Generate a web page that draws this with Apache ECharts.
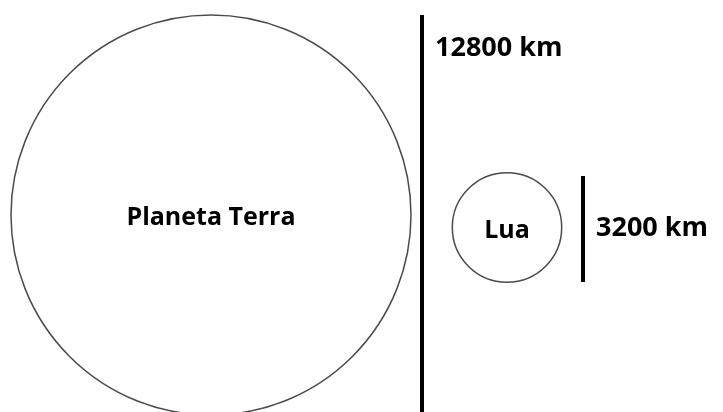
<!DOCTYPE html>
<html>
<head>
<meta charset="utf-8">
<script src="https://cdn.jsdelivr.net/npm/echarts@6/dist/echarts.min.js"></script>
<style>
html, body { margin: 0; background: #fff; }
#main { width: 723px; height: 412px; }
</style>
</head>
<body>
<div id="main"></div>
<script>
// everything in km, drawn at ~32 km per pixel
const bodies = ['Planeta Terra', 'Lua']
const centerX = [6752, 16224]
const centerY = [6304, 5904]
const diameters = [12800, 3500]

const barLabels = ['12800 km', '3200 km']
const barX = [13504, 18656]
const barBottom = [-160, 4160]
const barTop = [12704, 7552]
const labelY = [11648, 5888]

const nameFont = 'bold 25px "Open Sans", sans-serif'
const barFont = 'bold 27px "Open Sans", sans-serif'

let myChart = echarts.init(document.getElementById('main'))

let option = {
    backgroundColor: '#fff',
    animation: false,
    grid: {left: 0, right: 0, top: 0, bottom: 0},
    xAxis: {type: 'value', min: 0, max: 23136, show: false},
    yAxis: {type: 'value', min: 0, max: 13184, show: false},
    series: [
        {
            type: 'custom',
            data: bodies.map((name, i) => [centerX[i], centerY[i], diameters[i], name]),
            renderItem: (params, api) => {
                const c = api.coord([api.value(0), api.value(1)])
                const r = api.size([api.value(2) / 2, 0])[0]
                return {
                    type: 'group',
                    children: [
                        {
                            type: 'circle',
                            shape: {cx: c[0], cy: c[1], r: r},
                            style: {fill: 'none', stroke: '#4a4a4a', lineWidth: 1.5}
                        },
                        {
                            type: 'text',
                            x: c[0],
                            y: c[1] + 3,
                            style: {
                                text: bodies[params.dataIndex],
                                font: nameFont,
                                fill: '#000',
                                align: 'center',
                                verticalAlign: 'middle'
                            }
                        }
                    ]
                }
            }
        },
        {
            type: 'custom',
            data: barLabels.map((label, i) => [barX[i], barBottom[i], barTop[i], labelY[i]]),
            renderItem: (params, api) => {
                const p0 = api.coord([api.value(0), api.value(1)])
                const p1 = api.coord([api.value(0), api.value(2)])
                const lp = api.coord([api.value(0), api.value(3)])
                return {
                    type: 'group',
                    children: [
                        {
                            type: 'line',
                            shape: {x1: p0[0], y1: p0[1], x2: p1[0], y2: p1[1]},
                            style: {stroke: '#000', lineWidth: 4}
                        },
                        {
                            type: 'text',
                            x: lp[0] + 13,
                            y: lp[1],
                            style: {
                                text: barLabels[params.dataIndex],
                                font: barFont,
                                fill: '#000',
                                align: 'left',
                                verticalAlign: 'middle'
                            }
                        }
                    ]
                }
            }
        }
    ]
}

myChart.setOption(option)
</script>
</body>
</html>
